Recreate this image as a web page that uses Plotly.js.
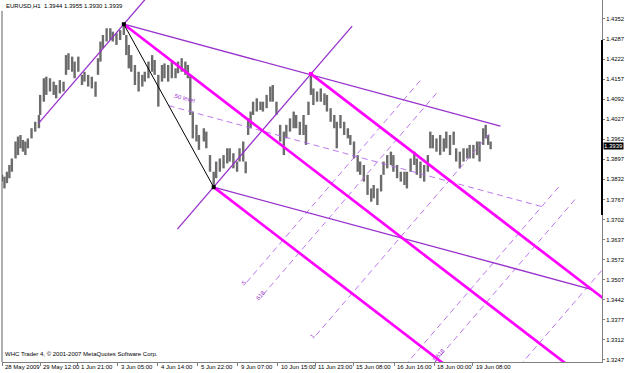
<!DOCTYPE html>
<html><head><meta charset="utf-8">
<script src="https://cdn.plot.ly/plotly-3.0.1.min.js"></script>
<style>html,body{margin:0;padding:0;background:#fff;}#chart{width:625px;height:373px;}</style>
</head><body><div id="chart"></div>
<script>
// ---------- data ----------
const barIndex = [0,2,4,6,8,11,13,15,17,19,21,24,27,30,31,34,36,39,42,44,47,50,52,54,57,59,62,65,67,70,73,76,78,80,82,85,88,90,93,96,99,101,103,105,108,111,114,116,119,122,124,127,130,132,135,138,141,143,146,149,151,153,155,158,160,164,166,169,172,174,177,180,183,185,188,191,193,196,198,200,202,204,207,210,212,215,218,220,223,226,229,231,234,237,239,242,245,247,249,251,253,256,259,262,264,267,270,272,275,278,281,283,286,289,291,294,297,300,302,305,308,310,313,316,318,321,324,327,329,332,335,337,340,343,346,348,350,353,356,359,361,364,367,369,372,375,378,380,383,386,388,391,393,395,397];
const barHigh = [1.3847,1.3841,1.3857,1.3879,1.3900,1.3955,1.3971,1.3976,1.3960,1.3955,1.3965,1.3998,1.4019,1.4041,1.4106,1.4160,1.4165,1.4160,1.4149,1.4138,1.4154,1.4149,1.4235,1.4241,1.4230,1.4214,1.4230,1.4171,1.4181,1.4171,1.4165,1.4149,1.4225,1.4279,1.4300,1.4322,1.4322,1.4311,1.4306,1.4316,1.4335,1.4300,1.4268,1.4235,1.4203,1.4181,1.4171,1.4181,1.4214,1.4235,1.4219,1.4171,1.4203,1.4208,1.4203,1.4214,1.4192,1.4214,1.4225,1.4214,1.4203,1.4171,1.4052,1.4009,1.3976,1.3998,1.3987,1.3911,1.3857,1.3890,1.3900,1.3911,1.3933,1.3933,1.3917,1.3890,1.3933,1.3955,1.3890,1.4030,1.4052,1.4084,1.4095,1.4084,1.4084,1.4106,1.4133,1.4138,1.4084,1.4009,1.3987,1.4009,1.4030,1.4052,1.4041,1.4019,1.4041,1.4009,1.4084,1.4174,1.4127,1.4117,1.4127,1.4111,1.4106,1.4063,1.4041,1.4019,1.4041,1.4019,1.3998,1.3976,1.3955,1.3911,1.3890,1.3879,1.3847,1.3803,1.3814,1.3803,1.3847,1.3890,1.3911,1.3922,1.3911,1.3879,1.3857,1.3857,1.3857,1.3900,1.3922,1.3900,1.3890,1.3879,1.3911,1.3987,1.3976,1.3965,1.3976,1.3965,1.3987,1.3976,1.3987,1.3933,1.3922,1.3933,1.3933,1.3944,1.3944,1.3955,1.3955,1.3998,1.4009,1.3976,1.3955];
const barLow = [1.3825,1.3803,1.3820,1.3836,1.3857,1.3900,1.3911,1.3933,1.3922,1.3911,1.3933,1.3965,1.3987,1.3998,1.4041,1.4084,1.4106,1.4117,1.4106,1.4095,1.4111,1.4117,1.4171,1.4187,1.4181,1.4160,1.4181,1.4138,1.4149,1.4133,1.4127,1.4100,1.4171,1.4214,1.4257,1.4279,1.4284,1.4279,1.4268,1.4284,1.4300,1.4235,1.4192,1.4181,1.4138,1.4117,1.4133,1.4149,1.4160,1.4181,1.4171,1.4068,1.4149,1.4160,1.4149,1.4160,1.4160,1.4176,1.4181,1.4171,1.4160,1.4041,1.3965,1.3955,1.3928,1.3955,1.3933,1.3857,1.3807,1.3836,1.3857,1.3868,1.3884,1.3890,1.3868,1.3857,1.3890,1.3890,1.3852,1.3976,1.3998,1.4041,1.4052,1.4057,1.4052,1.4063,1.4084,1.4084,1.4041,1.3955,1.3911,1.3965,1.3987,1.3998,1.3998,1.3976,1.3976,1.3944,1.4041,1.4106,1.4073,1.4084,1.4084,1.4073,1.4052,1.4019,1.3998,1.3933,1.3998,1.3976,1.3965,1.3944,1.3900,1.3857,1.3847,1.3825,1.3782,1.3760,1.3771,1.3749,1.3793,1.3847,1.3868,1.3879,1.3857,1.3836,1.3825,1.3814,1.3803,1.3857,1.3879,1.3847,1.3836,1.3825,1.3857,1.3933,1.3933,1.3922,1.3911,1.3922,1.3933,1.3911,1.3944,1.3890,1.3868,1.3890,1.3900,1.3900,1.3900,1.3911,1.3890,1.3944,1.3965,1.3944,1.3930];

const tickBars = [0,31,61.5,94,126.5,159,191.5,224,254.5,285.5,318.5,351,382.5];
const tickLabels = ['28 May 2009','29 May 12:00','1 Jun 21:00','3 Jun 05:00','4 Jun 14:00','5 Jun 22:00','9 Jun 07:00','10 Jun 15:00','11 Jun 23:00','15 Jun 08:00','16 Jun 16:00','18 Jun 00:00','19 Jun 08:00'];
const priceTicks = [1.3247,1.3312,1.3377,1.3442,1.3507,1.3572,1.3637,1.3702,1.3767,1.3832,1.3897,1.3962,1.4027,1.4092,1.4157,1.4222,1.4287,1.4352];
const lastPrice = 1.3939;
const headerText = 'EURUSD,H1  1.3944 1.3955 1.3930 1.3939';
const footerText = 'WHC Trader 4, \u00a9 2001-2007 MetaQuotes Software Corp.';

// pivots A (3 Jun high), B (8 Jun low), C (11 Jun high)
const pivotBars = [99, 172, 251];
const pivotPrices = [1.4335, 1.3807, 1.4174];
// equidistant channel: base from A to this end point, shifted by (B - A)
const channelEnd = [405, 1.4005];
const channelLevels = [0, 0.5, 1];
// fibonacci channel: base segment on line B-C, shifted along the pitchfork median
const fibBaseBars = [142.5, 284.5];
const fibBasePrices = [1.3671, 1.4329];
const fibLevels = [-1, 0, 0.5, 0.618, 1, 1.5, 1.618, 2];
const fibLabels = ['', '', '.5', '.618', '1', '', '1.618', ''];

// ---------- build ----------
const X_MAX = 487.5, Y_MIN = 1.32405, Y_MAX = 1.44135;
const FONT = 'Liberation Sans, Arial, sans-serif';
const FS = 6;
const PURPLE = '#9932CC', MAGENTA = '#FF00FF', DASHC = '#B468EC';

const bx = [], by = [];
barIndex.forEach((b, i) => { bx.push(b, b, null); by.push(barLow[i], barHigh[i], null); });

const A = {x: pivotBars[0], y: pivotPrices[0]};
const B = {x: pivotBars[1], y: pivotPrices[1]};
const C = {x: pivotBars[2], y: pivotPrices[2]};
const M = {x: (B.x + C.x) / 2, y: (B.y + C.y) / 2};
const dir = {x: M.x - A.x, y: M.y - A.y};

// pitchfork rays
const pfx = [], pfy = [];
[A, B, C].forEach(P => {
  const t = (X_MAX + 5 - P.x) / dir.x;
  pfx.push(P.x, P.x + t * dir.x, null); pfy.push(P.y, P.y + t * dir.y, null);
});

// equidistant channel
const chSolidX = [], chSolidY = [], chDashX = [], chDashY = [];
const sh = {x: B.x - A.x, y: B.y - A.y};
channelLevels.forEach(l => {
  const xs = [A.x + l * sh.x, channelEnd[0] + l * sh.x];
  const ys = [A.y + l * sh.y, channelEnd[1] + l * sh.y];
  if (l === 0 || l === 1) { chSolidX.push(xs[0], xs[1], null); chSolidY.push(ys[0], ys[1], null); }
  else { chDashX.push(xs[0], xs[1], null); chDashY.push(ys[0], ys[1], null); }
});

// fibonacci channel
const fbSolidX = [], fbSolidY = [], fbDashX = [], fbDashY = [];
const fibAnn = [];
fibLevels.forEach((l, i) => {
  const x0 = fibBaseBars[0] + l * dir.x, x1 = fibBaseBars[1] + l * dir.x;
  const y0 = fibBasePrices[0] + l * dir.y, y1 = fibBasePrices[1] + l * dir.y;
  if (l <= 0) { fbSolidX.push(x0, x1, null); fbSolidY.push(y0, y1, null); }
  else { fbDashX.push(x0, x1, null); fbDashY.push(y0, y1, null); }
  if (fibLabels[i]) {
    let lx = x0, ly = y0;
    if (ly < Y_MIN + 0.0025) { const t = (Y_MIN + 0.0025 - y0) / (y1 - y0); lx = x0 + t * (x1 - x0); ly = Y_MIN + 0.0025; }
    fibAnn.push({x: lx, y: ly, xref: 'x', yref: 'y', text: fibLabels[i], showarrow: false, textangle: -49,
      font: {family: FONT, size: FS, color: PURPLE}, xshift: -3, yshift: -1});
  }
});

const traces = [
  {x: bx, y: by, mode: 'lines', line: {color: '#6c6c6c', width: 2.4}, hoverinfo: 'skip'},
  {x: fbDashX, y: fbDashY, mode: 'lines', line: {color: DASHC, width: 0.9, dash: '6px,4px'}},
  {x: chDashX, y: chDashY, mode: 'lines', line: {color: DASHC, width: 0.9, dash: '6px,4px'}},
  {x: fbSolidX, y: fbSolidY, mode: 'lines', line: {color: PURPLE, width: 1.3}},
  {x: chSolidX, y: chSolidY, mode: 'lines', line: {color: PURPLE, width: 1.3}},
  {x: pfx, y: pfy, mode: 'lines', line: {color: MAGENTA, width: 2.7}},
  {x: [A.x, B.x], y: [A.y, B.y], mode: 'lines', line: {color: '#000000', width: 1}},
  {x: [A.x, B.x, C.x], y: [A.y, B.y, C.y], mode: 'markers', marker: {size: 4, symbol: 'square', color: ['#000', '#000', MAGENTA]}}
];

const annotations = [];
tickBars.forEach((b, i) => annotations.push({x: b, y: 0, xref: 'x', yref: 'paper', text: tickLabels[i], showarrow: false,
  xanchor: 'left', yanchor: 'top', xshift: 1, yshift: 0, font: {family: FONT, size: FS, color: '#000'}}));
annotations.push({x: 0, y: 1, xref: 'paper', yref: 'paper', text: headerText, showarrow: false, xanchor: 'left', yanchor: 'top',
  xshift: 2, yshift: -1, font: {family: FONT, size: FS, color: '#000'}});
annotations.push({x: 0, y: 0, xref: 'paper', yref: 'paper', text: footerText, showarrow: false, xanchor: 'left', yanchor: 'bottom',
  xshift: 1, yshift: 3, font: {family: FONT, size: FS, color: '#000'}});
annotations.push({x: 1, y: lastPrice, xref: 'paper', yref: 'y', text: lastPrice.toFixed(4), showarrow: false, xanchor: 'left',
  yanchor: 'middle', xshift: 1, bgcolor: '#000', borderpad: 0, font: {family: FONT, size: FS, color: '#fff'}});
// channel mid label
annotations.push({x: A.x + 0.5 * sh.x, y: A.y + 0.5 * sh.y, xref: 'x', yref: 'y', text: '.50 level', showarrow: false,
  xanchor: 'left', yanchor: 'bottom', textangle: 15, xshift: 1, yshift: 0, font: {family: FONT, size: FS, color: PURPLE}});
fibAnn.forEach(a => annotations.push(a));

const layout = {
  width: 625, height: 373,
  margin: {l: 2, r: 23, t: 0, b: 11},
  paper_bgcolor: '#fff', plot_bgcolor: '#fff',
  showlegend: false,
  xaxis: {range: [0, X_MAX], showgrid: false, zeroline: false, showline: true, linecolor: '#808080', linewidth: 1,
    tickvals: tickBars, showticklabels: false, ticks: 'outside', ticklen: 3, tickcolor: '#808080', fixedrange: true},
  yaxis: {range: [Y_MIN, Y_MAX], side: 'right', showgrid: false, zeroline: false, showline: true, linecolor: '#808080', linewidth: 1,
    tickvals: priceTicks, ticktext: priceTicks.map(v => v.toFixed(4)), ticks: 'outside', ticklen: 2, tickcolor: '#808080',
    tickfont: {family: FONT, size: 5.8, color: '#000'}, fixedrange: true},
  shapes: [
    {type: 'line', xref: 'paper', yref: 'paper', x0: 0, x1: 0, y0: 0, y1: 0.97, line: {color: '#606060', width: 1}},
    {type: 'line', xref: 'paper', yref: 'paper', x0: 1, x1: 1, y0: 0.406, y1: 0.8895, line: {color: '#000', width: 2}}
  ],
  annotations: annotations
};

Plotly.newPlot('chart', traces, layout, {staticPlot: true, displayModeBar: false});
</script>
</body></html>
